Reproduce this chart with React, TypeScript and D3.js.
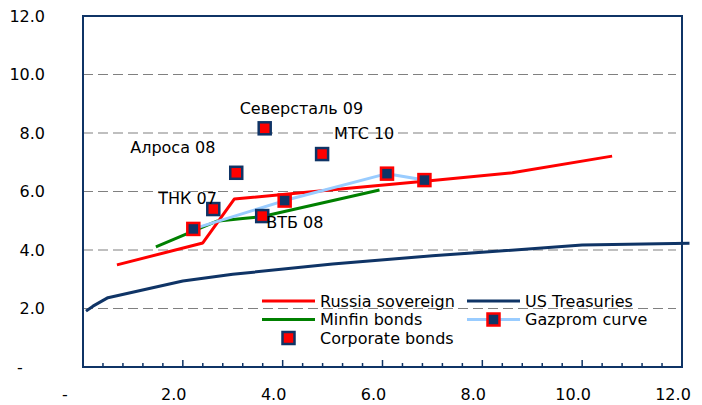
import React, { useEffect, useRef } from 'react';
import * as d3 from 'd3';

// yield curves, x = duration (years), y = yield (%)
const russiaX = [0.68, 2.4, 3.03, 5.0, 7.0, 8.6, 10.6];
const russiaY = [3.49, 4.24, 5.74, 6.06, 6.38, 6.64, 7.21];

const minfinX = [1.46, 2.67, 3.2, 3.55, 5.94];
const minfinY = [4.11, 4.98, 5.08, 5.13, 6.05];

const ustX = [0.06, 0.2, 0.5, 2.0, 3.0, 5.0, 7.0, 10.0, 12.15];
const ustY = [1.91, 2.08, 2.37, 2.94, 3.17, 3.52, 3.8, 4.17, 4.23];

const gazpromX = [2.21, 4.04, 6.09, 6.84];
const gazpromY = [4.72, 5.69, 6.61, 6.39];

const corpNames = ['ТНК 07', 'Алроса 08', 'Северсталь 09', 'ВТБ 08', 'МТС 10'];
const corpX = [2.61, 3.07, 3.64, 3.59, 4.79];
const corpY = [5.4, 6.64, 8.16, 5.16, 7.28];

const xTicks = [0, 2, 4, 6, 8, 10, 12];
const yTicks = [0, 2, 4, 6, 8, 10, 12];

const NAVY = '#0f3466';
const FONT = 'DejaVu Sans, Verdana, sans-serif';

const Chart = () => {
  const svgRef = useRef(null);

  useEffect(() => {
    const width = 702;
    const height = 405;
    const left = 83, right = 682, top = 16, bottom = 367;

    const svg = d3.select(svgRef.current).attr('width', width).attr('height', height);
    svg.selectAll('*').remove();

    const x = d3.scaleLinear().domain([0, 12]).range([left, right]);
    const y = d3.scaleLinear().domain([0, 12]).range([bottom, top]);
    const fmt = (v) => (v === 0 ? '-' : d3.format('.1f')(v));

    // gridlines
    yTicks.filter((t) => t > 0 && t < 12).forEach((t) => {
      svg.append('line')
        .attr('x1', left).attr('x2', right - 6)
        .attr('y1', y(t)).attr('y2', y(t))
        .attr('stroke', '#808080')
        .attr('stroke-width', 1.2)
        .attr('stroke-dasharray', '10,5');
    });

    // plot border
    svg.append('rect')
      .attr('x', left).attr('y', top)
      .attr('width', right - left).attr('height', bottom - top)
      .attr('fill', 'none')
      .attr('stroke', NAVY)
      .attr('stroke-width', 2);

    // x ticks (inside, minor every 0.4)
    d3.range(0, 12.001, 0.4).forEach((t) => {
      const major = Math.abs(t / 2 - Math.round(t / 2)) < 1e-6;
      svg.append('line')
        .attr('x1', x(t)).attr('x2', x(t))
        .attr('y1', bottom).attr('y2', bottom - (major ? 7 : 4))
        .attr('stroke', NAVY)
        .attr('stroke-width', 1.5);
    });

    // axis labels
    yTicks.forEach((t) => {
      svg.append('text')
        .attr('x', t === 0 ? 20 : 45)
        .attr('y', y(t))
        .attr('dy', '0.36em')
        .attr('text-anchor', t === 0 ? 'middle' : 'end')
        .attr('font-family', FONT)
        .attr('font-size', 16)
        .attr('fill', '#000')
        .text(fmt(t));
    });
    xTicks.forEach((t) => {
      svg.append('text')
        .attr('x', t === 0 ? x(t) - 18 : x(t) - 9)
        .attr('y', 400)
        .attr('text-anchor', 'middle')
        .attr('font-family', FONT)
        .attr('font-size', 16)
        .attr('fill', '#000')
        .text(fmt(t));
    });

    const line = d3.line().x((d) => x(d[0])).y((d) => y(d[1]));
    const drawLine = (xs, ys, color) => {
      svg.append('path')
        .datum(xs.map((v, i) => [v, ys[i]]))
        .attr('d', line)
        .attr('fill', 'none')
        .attr('stroke', color)
        .attr('stroke-width', 3)
        .attr('stroke-linejoin', 'round');
    };

    drawLine(ustX, ustY, NAVY);
    drawLine(minfinX, minfinY, '#008000');
    drawLine(russiaX, russiaY, '#ff0000');
    drawLine(gazpromX, gazpromY, '#99ccff');

    const marker = (g, cx, cy, fill, stroke) => {
      g.append('rect')
        .attr('x', cx - 6).attr('y', cy - 6)
        .attr('width', 12).attr('height', 12)
        .attr('fill', fill)
        .attr('stroke', stroke)
        .attr('stroke-width', 2.5);
    };

    gazpromX.forEach((v, i) => marker(svg, x(v), y(gazpromY[i]), NAVY, '#ff0000'));
    corpX.forEach((v, i) => marker(svg, x(v), y(corpY[i]), '#ff0000', NAVY));

    // data labels for corporate bonds
    const labelShift = {
      'ТНК 07': [-55, -11],
      'Алроса 08': [-106, -26],
      'Северсталь 09': [-25, -20],
      'ВТБ 08': [4, 6],
      'МТС 10': [12, -21],
    };
    corpNames.forEach((name, i) => {
      const [dx, dy] = labelShift[name];
      svg.append('text')
        .attr('x', x(corpX[i]) + dx)
        .attr('y', y(corpY[i]) + dy)
        .attr('dy', '0.36em')
        .attr('font-family', FONT)
        .attr('font-size', 16)
        .attr('fill', '#000')
        .text(name);
    });

    // legend
    const legend = [
      { label: 'Russia sovereign', color: '#ff0000', col: 0, row: 0, type: 'line' },
      { label: 'US Treasuries', color: NAVY, col: 1, row: 0, type: 'line' },
      { label: 'Minfin bonds', color: '#008000', col: 0, row: 1, type: 'line' },
      { label: 'Gazprom curve', color: '#99ccff', col: 1, row: 1, type: 'gazprom' },
      { label: 'Corporate bonds', color: NAVY, col: 0, row: 2, type: 'corp' },
    ];
    legend.forEach((d) => {
      const lx = d.col === 0 ? 262 : 467;
      const ly = 301 + d.row * 18.5;
      if (d.type !== 'corp') {
        svg.append('line')
          .attr('x1', lx).attr('x2', lx + 53)
          .attr('y1', ly).attr('y2', ly)
          .attr('stroke', d.color)
          .attr('stroke-width', 3);
      }
      if (d.type === 'gazprom') marker(svg, lx + 26.5, ly, NAVY, '#ff0000');
      if (d.type === 'corp') marker(svg, lx + 26.5, ly, '#ff0000', NAVY);
      svg.append('text')
        .attr('x', lx + 58)
        .attr('y', ly)
        .attr('dy', '0.36em')
        .attr('font-family', FONT)
        .attr('font-size', 16)
        .attr('fill', '#000')
        .text(d.label);
    });
  }, []);

  return <svg ref={svgRef} style={{ position: 'absolute', left: 0, top: 0 }} />;
};

export default function App() {
  return <Chart />;
}
